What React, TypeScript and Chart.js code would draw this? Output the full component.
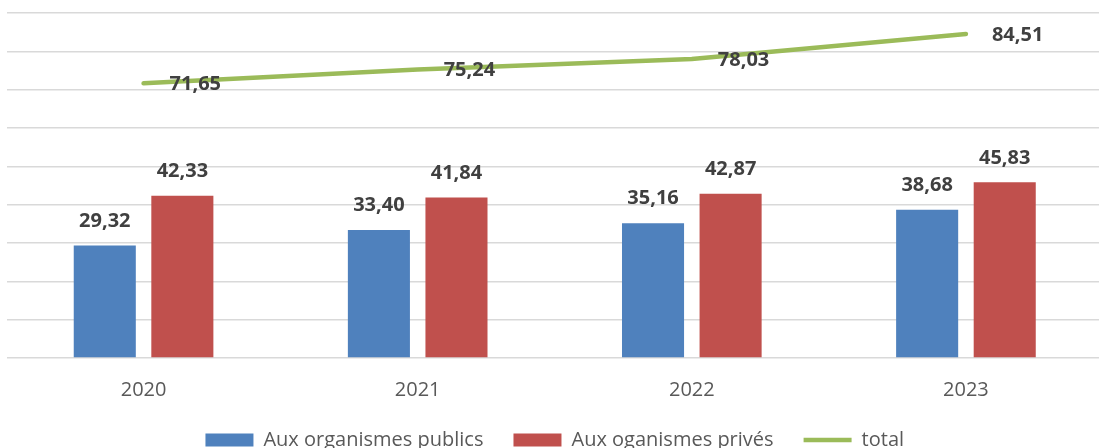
import React, { useEffect, useRef } from 'react';
import { Chart, registerables } from 'chart.js';

Chart.register(...registerables);

const categories = ['2020', '2021', '2022', '2023'];
const publicValues = [29.32, 33.4, 35.16, 38.68];
const priveValues = [42.33, 41.84, 42.87, 45.83];
const totalValues = [71.65, 75.24, 78.03, 84.51];
const seriesNames = ['Aux organismes publics', 'Aux oganismes privés', 'total'];
const yMin = 0;
const yMax = 90;
const yStep = 10;

const FONT = '"Open Sans", "DejaVu Sans", sans-serif';

const fmt = (v: number) => v.toFixed(2).replace('.', ',');

const valueLabels = {
  id: 'valueLabels',
  afterDatasetsDraw(chart: any) {
    const ctx = chart.ctx;
    ctx.save();
    ctx.font = `bold 20px ${FONT}`;
    ctx.fillStyle = '#404040';
    ctx.textBaseline = 'middle';
    chart.data.datasets.forEach((ds: any, i: number) => {
      const meta = chart.getDatasetMeta(i);
      meta.data.forEach((el: any, j: number) => {
        const v = ds.data[j] as number;
        if (ds.type === 'line') {
          ctx.textAlign = 'left';
          ctx.fillText(fmt(v), el.x + 26, el.y + 1);
        } else {
          ctx.textAlign = 'center';
          ctx.fillText(fmt(v), el.x, el.y - 24.5);
        }
      });
    });
    ctx.restore();
  },
};

export default function App() {
  const ref = useRef<HTMLCanvasElement | null>(null);

  useEffect(() => {
    if (!ref.current) return;
    const chart = new Chart(ref.current, {
      type: 'bar',
      data: {
        labels: categories,
        datasets: [
          {
            type: 'bar',
            label: seriesNames[0],
            data: publicValues,
            backgroundColor: '#4F81BD',
            order: 1,
          },
          {
            type: 'bar',
            label: seriesNames[1],
            data: priveValues,
            backgroundColor: '#C0504D',
            order: 1,
          },
          {
            type: 'line',
            label: seriesNames[2],
            data: totalValues,
            borderColor: '#9BBB59',
            backgroundColor: '#9BBB59',
            borderWidth: 4.5,
            pointRadius: 0,
            tension: 0,
            borderCapStyle: 'round',
            order: 0,
          },
        ] as any,
      },
      options: {
        animation: false,
        responsive: false,
        layout: { padding: { left: 6.5, right: 0, top: 13, bottom: 0 } },
        datasets: {
          bar: { categoryPercentage: 0.566, barPercentage: 0.8 },
        } as any,
        scales: {
          x: {
            grid: { display: false },
            border: { display: false },
            ticks: {
              font: { family: FONT, size: 20 },
              color: '#595959',
              padding: 12,
            },
            afterFit(scale: any) {
              scale.height -= 14;
            },
          },
          y: {
            min: yMin,
            max: yMax,
            ticks: { stepSize: yStep, display: false },
            grid: { color: '#d9d9d9', lineWidth: 1.5, drawTicks: false },
            border: { display: false },
          },
        },
        plugins: {
          tooltip: { enabled: false },
          legend: {
            position: 'bottom',
            labels: {
              font: { family: FONT, size: 20 },
              color: '#595959',
              usePointStyle: true,
              pointStyleWidth: 48,
              boxHeight: 13,
              padding: 30,
              sort: (a: any, b: any) => a.datasetIndex - b.datasetIndex,
              generateLabels(chart: any) {
                const items = (Chart.defaults.plugins.legend.labels as any).generateLabels(chart);
                return items.map((it: any) => {
                  const ds = chart.data.datasets[it.datasetIndex];
                  const isLine = ds.type === 'line';
                  return {
                    ...it,
                    pointStyle: isLine ? 'line' : 'rect',
                    lineWidth: isLine ? 4.5 : 0,
                    strokeStyle: isLine ? ds.borderColor : ds.backgroundColor,
                    fillStyle: ds.backgroundColor,
                  };
                });
              },
            },
          },
        },
      } as any,
      plugins: [valueLabels],
    });
    return () => chart.destroy();
  }, []);

  return (
    <div
      style={{
        position: 'fixed',
        left: 0,
        top: 0,
        width: 1099,
        height: 448,
        overflow: 'hidden',
        background: '#ffffff',
      }}
    >
      <canvas ref={ref} width={1103} height={460} style={{ display: 'block' }} />
    </div>
  );
}
